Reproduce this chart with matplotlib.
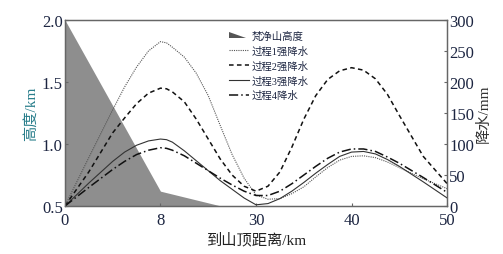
import numpy as np
import matplotlib
matplotlib.use("Agg")
import matplotlib.pyplot as plt
from matplotlib.patches import Polygon
from matplotlib.legend_handler import HandlerPatch

plt.rcParams['font.family'] = ['Liberation Serif', 'Noto Sans CJK SC']

# x ticks are evenly spaced although the km values are not
tick_km = [0, 8, 30, 40, 50]

# mountain profile (km, height km)
mount_x = [0, 8, 22, 50]
mount_h = [2.0, 0.62, 0.5, 0.5]

# precipitation (mm) along distance (km)
dist = [0, 2, 4, 5, 6, 7, 8, 9.4, 10.75, 13.5, 16.25, 19, 21.75, 24.5, 27.25,
        30, 31.25, 32.5, 33.75, 35, 36.25, 37.5, 38.75, 40, 41.25, 42.5,
        43.75, 45, 47.5, 50]
p1 = [0, 78, 155, 192, 224, 250, 265, 263, 256, 240, 214, 178, 130, 83, 45,
      18, 11, 12, 20, 31, 47, 62, 74, 80, 81, 78, 71, 62, 44, 28]
p2 = [0, 55, 118, 142, 165, 182, 190, 189, 184, 168, 140, 108, 76, 50, 32,
      24, 32, 55, 95, 140, 178, 204, 218, 223, 219, 205, 180, 146, 80, 36]
p3 = [0, 37, 72, 87, 98, 105, 108, 107, 103, 89, 73, 57, 41, 27, 13,
      2, 4, 12, 24, 38, 53, 67, 80, 87, 88, 84, 75, 64, 39, 13]
p4 = [0, 30, 59, 72, 83, 90, 94, 93, 90, 81, 69, 57, 45, 34, 24,
      17, 17, 24, 36, 50, 64, 77, 87, 92, 92, 88, 79, 69, 46, 22]

labels = ['梵净山高度', '过程1强降水', '过程2强降水', '过程3强降水', '过程4降水']


def fwd(x):
    return np.interp(x, tick_km, np.arange(len(tick_km)))


def inv(p):
    return np.interp(p, np.arange(len(tick_km)), tick_km)


class TriHandler(HandlerPatch):
    def create_artists(self, legend, orig_handle, xdescent, ydescent,
                       width, height, fontsize, trans):
        x0, y0 = -xdescent, -ydescent
        w = width * 0.85
        tri = Polygon([[x0, y0 + height * 0.95], [x0, y0 + height * 0.15],
                       [x0 + w, y0 + height * 0.15]], closed=True,
                      facecolor='#555555', edgecolor='none', transform=trans)
        return [tri]


txt = '#1c2541'
fig = plt.figure(figsize=(5.03, 2.55), dpi=100)
ax = fig.add_axes([0.129, 0.188, 0.76, 0.73])
ax.set_xscale('function', functions=(fwd, inv))
ax.fill_between(mount_x, 0.5, mount_h, color='#8e8e8e', lw=0)
ax.set_ylim(0.5, 2.0)

ax2 = ax.twinx()
ax2.plot(dist, p1, color='#555555', lw=0.8, ls=(0, (1, 1)))
ax2.plot(dist, p2, color='#111111', lw=1.1, ls=(0, (3, 2.2)))
ax2.plot(dist, p3, color='#333333', lw=0.8, ls='-')
ax2.plot(dist, p4, color='#111111', lw=1.1, ls=(0, (6, 2, 1, 2)))
ax2.set_ylim(0, 300)
ax2.set_yticks([0, 50, 100, 150, 200, 250, 300])

ax.set_xlim(0, 50)
ax.set_xticks(tick_km)
ax.set_xticklabels([str(t) for t in tick_km])
ax.set_yticks([0.5, 1.0, 1.5, 2.0])
ax.set_yticklabels(['0.5', '1.0', '1.5', '2.0'])
ax.minorticks_off()
ax2.minorticks_off()

for a in (ax, ax2):
    a.tick_params(direction='in', length=2.5, width=0.8, colors='#666666',
                  labelsize=12, labelcolor=txt, pad=1.5)
    for s in a.spines.values():
        s.set_color('#666666')
        s.set_linewidth(0.9)
ax.tick_params(axis='x', pad=4)

ax.set_xlabel('到山顶距离/km', fontsize=11, color='#222222', labelpad=3)
ax.set_ylabel('高度/km', fontsize=11, color='#2a7f8c', labelpad=3)
ax2.set_ylabel('降水/mm', fontsize=11, color='#333333', labelpad=2)

lines = ax2.get_lines()
tri_handle = Polygon([[0, 0], [1, 0], [0, 1]])
leg = ax2.legend([tri_handle] + lines, labels, loc='upper left',
                 bbox_to_anchor=(0.41, 0.98), frameon=False, fontsize=7.5,
                 handlelength=1.9, handletextpad=0.3, labelspacing=0.45,
                 borderpad=0.2, handler_map={Polygon: TriHandler()})
for t in leg.get_texts():
    t.set_color(txt)

fig.savefig('out.png', dpi=100)
